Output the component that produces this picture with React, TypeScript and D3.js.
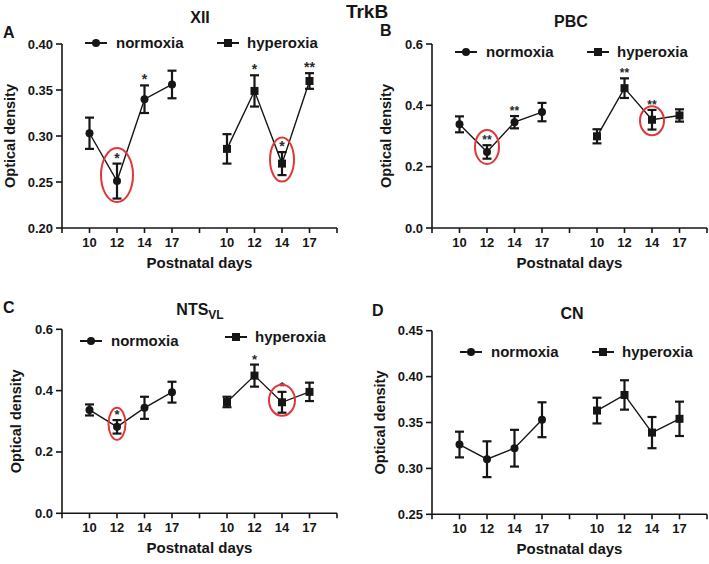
import React from "react";
import * as d3 from "d3";

const days = ["10", "12", "14", "17"];

// XII
const xiiNorm = [0.303, 0.251, 0.34, 0.356];
const xiiNormErr = [0.017, 0.019, 0.015, 0.015];
const xiiHyper = [0.286, 0.349, 0.27, 0.3598];
const xiiHyperErr = [0.016, 0.017, 0.0125, 0.0085];
const xiiNormStars = ["", "*", "*", ""];
const xiiHyperStars = ["", "*", "*", "**"];

// PBC
const pbcNorm = [0.338, 0.248, 0.345, 0.378];
const pbcNormErr = [0.026, 0.022, 0.02, 0.03];
const pbcHyper = [0.299, 0.456, 0.353, 0.367];
const pbcHyperErr = [0.023, 0.032, 0.032, 0.02];
const pbcNormStars = ["", "**", "**", ""];
const pbcHyperStars = ["", "**", "**", ""];

// NTS VL
const ntsNorm = [0.337, 0.282, 0.344, 0.395];
const ntsNormErr = [0.018, 0.022, 0.036, 0.034];
const ntsHyper = [0.363, 0.449, 0.362, 0.396];
const ntsHyperErr = [0.017, 0.036, 0.034, 0.03];
const ntsNormStars = ["", "*", "", ""];
const ntsHyperStars = ["", "*", "*", ""];

// CN
const cnNorm = [0.326, 0.31, 0.322, 0.353];
const cnNormErr = [0.014, 0.0195, 0.02, 0.019];
const cnHyper = [0.363, 0.38, 0.339, 0.354];
const cnHyperErr = [0.014, 0.016, 0.017, 0.0187];
const noStars = ["", "", "", ""];

const ticksA = [0.2, 0.25, 0.3, 0.35, 0.4];
const ticksB = [0, 0.2, 0.4, 0.6];
const ticksD = [0.25, 0.3, 0.35, 0.4, 0.45];

const FONT = "'Liberation Sans', Arial, sans-serif";
const INK = "#161616";
const RED = "#e0383a";

type Circ = { group: "n" | "h"; idx: number; dy: number; rx: number; ry: number };

type PanelProps = {
  ax: number; top: number; bottom: number;
  domain: [number, number]; ticks: number[]; fmt: string;
  title: React.ReactNode; titleX: number; titleY: number;
  letter: string; letterX: number; letterY: number;
  ylabX: number;
  norm: number[]; normErr: number[]; hyper: number[]; hyperErr: number[];
  normStars: string[]; hyperStars: string[]; starSize: number;
  legN: [number, number]; legH: [number, number];
  circles: Circ[];
};

function Panel(p: PanelProps) {
  const x = d3.scaleLinear().domain([0, 10]).range([p.ax, p.ax + 275]);
  const y = d3.scaleLinear().domain(p.domain).range([p.bottom, p.top]);
  const f = d3.format(p.fmt);
  const nPos = [1, 2, 3, 4];
  const hPos = [6, 7, 8, 9];
  const line = d3.line<[number, number]>().x((d) => x(d[0])).y((d) => y(d[1]));
  const nPts = nPos.map((px, i) => [px, p.norm[i]] as [number, number]);
  const hPts = hPos.map((px, i) => [px, p.hyper[i]] as [number, number]);
  const xt = d3.range(0, 11);
  const labelPos = [...nPos, ...hPos];
  const labels = [...days, ...days];

  const errBar = (px: number, m: number, e: number, key: string) => (
    <g key={key} stroke={INK} strokeWidth={2.2}>
      <line x1={x(px)} x2={x(px)} y1={y(m + e)} y2={y(m - e)} />
      <line x1={x(px) - 4.5} x2={x(px) + 4.5} y1={y(m + e)} y2={y(m + e)} />
      <line x1={x(px) - 4.5} x2={x(px) + 4.5} y1={y(m - e)} y2={y(m - e)} />
    </g>
  );

  return (
    <g fontFamily={FONT} fontWeight="bold" fill={INK}>
      <text x={p.letterX} y={p.letterY} fontSize={16}>{p.letter}</text>
      <text x={p.titleX} y={p.titleY} fontSize={16} textAnchor="middle">{p.title}</text>
      <line x1={p.ax} x2={p.ax} y1={p.top} y2={p.bottom} stroke={INK} strokeWidth={1.6} />
      {p.ticks.map((t) => (
        <g key={"yt" + t}>
          <line x1={p.ax - 6} x2={p.ax} y1={y(t)} y2={y(t)} stroke={INK} strokeWidth={1.6} />
          <text x={p.ax - 9} y={y(t) + 4.5} fontSize={13} textAnchor="end">{f(t)}</text>
        </g>
      ))}
      <text transform={`translate(${p.ylabX},${(p.top + p.bottom) / 2}) rotate(-90)`} fontSize={14.5} textAnchor="middle">
        Optical density
      </text>
      <line x1={x(0)} x2={x(10)} y1={p.bottom} y2={p.bottom} stroke={INK} strokeWidth={1.6} />
      {xt.map((t) => (
        <line key={"xt" + t} x1={x(t)} x2={x(t)} y1={p.bottom} y2={p.bottom + 5} stroke={INK} strokeWidth={1.6} />
      ))}
      {labelPos.map((px, i) => (
        <text key={"xl" + i} x={x(px)} y={p.bottom + 19} fontSize={13} textAnchor="middle">{labels[i]}</text>
      ))}
      <text x={x(5)} y={p.bottom + 40} fontSize={15} textAnchor="middle">Postnatal days</text>
      <path d={line(nPts) || ""} fill="none" stroke={INK} strokeWidth={1.4} />
      <path d={line(hPts) || ""} fill="none" stroke={INK} strokeWidth={1.4} />
      {nPos.map((px, i) => errBar(px, p.norm[i], p.normErr[i], "ne" + i))}
      {hPos.map((px, i) => errBar(px, p.hyper[i], p.hyperErr[i], "he" + i))}
      {nPos.map((px, i) => (
        <circle key={"nc" + i} cx={x(px)} cy={y(p.norm[i])} r={4} fill={INK} />
      ))}
      {hPos.map((px, i) => (
        <rect key={"hr" + i} x={x(px) - 4} y={y(p.hyper[i]) - 4} width={8} height={8} fill={INK} />
      ))}
      {nPos.map((px, i) => p.normStars[i] ? (
        <text key={"ns" + i} x={x(px)} y={y(p.norm[i] + p.normErr[i]) - 1} fontSize={p.starSize} textAnchor="middle" fill="#2a2a2a">{p.normStars[i]}</text>
      ) : null)}
      {hPos.map((px, i) => p.hyperStars[i] ? (
        <text key={"hs" + i} x={x(px)} y={y(p.hyper[i] + p.hyperErr[i]) - 1} fontSize={p.starSize} textAnchor="middle" fill="#2a2a2a">{p.hyperStars[i]}</text>
      ) : null)}
      {p.circles.map((c, i) => {
        const px = c.group === "n" ? nPos[c.idx] : hPos[c.idx];
        const v = c.group === "n" ? p.norm[c.idx] : p.hyper[c.idx];
        return <ellipse key={"el" + i} cx={x(px)} cy={y(v) + c.dy} rx={c.rx} ry={c.ry} fill="none" stroke={RED} strokeWidth={2} />;
      })}
      <g>
        <line x1={p.legN[0]} x2={p.legN[0] + 22} y1={p.legN[1]} y2={p.legN[1]} stroke={INK} strokeWidth={2} />
        <circle cx={p.legN[0] + 11} cy={p.legN[1]} r={4} fill={INK} />
        <text x={p.legN[0] + 31} y={p.legN[1] + 5} fontSize={15}>normoxia</text>
        <line x1={p.legH[0]} x2={p.legH[0] + 22} y1={p.legH[1]} y2={p.legH[1]} stroke={INK} strokeWidth={2} />
        <rect x={p.legH[0] + 7} y={p.legH[1] - 4} width={8} height={8} fill={INK} />
        <text x={p.legH[0] + 30} y={p.legH[1] + 5} fontSize={15}>hyperoxia</text>
      </g>
    </g>
  );
}

export default function App() {
  return (
    <svg width={709} height={564} style={{ position: "absolute", left: 0, top: 0, background: "#fff" }}>
      <rect width={709} height={564} fill="#fff" />
      <text x={367} y={18} fontFamily={FONT} fontWeight="bold" fontSize={19} textAnchor="middle" fill={INK}>TrkB</text>
      <Panel
        ax={62} top={44} bottom={228} domain={[0.2, 0.4]} ticks={ticksA} fmt=".2f"
        title="XII" titleX={200} titleY={23} letter="A" letterX={3} letterY={38} ylabX={15}
        norm={xiiNorm} normErr={xiiNormErr} hyper={xiiHyper} hyperErr={xiiHyperErr}
        normStars={xiiNormStars} hyperStars={xiiHyperStars} starSize={14}
        legN={[85, 43]} legH={[217, 43]}
        circles={[{ group: "n", idx: 1, dy: -6, rx: 16, ry: 27 }, { group: "h", idx: 2, dy: -4, rx: 12, ry: 22 }]}
      />
      <Panel
        ax={432} top={44} bottom={228} domain={[0, 0.6]} ticks={ticksB} fmt=".1f"
        title="PBC" titleX={571} titleY={27} letter="B" letterX={380} letterY={36} ylabX={391}
        norm={pbcNorm} normErr={pbcNormErr} hyper={pbcHyper} hyperErr={pbcHyperErr}
        normStars={pbcNormStars} hyperStars={pbcHyperStars} starSize={12}
        legN={[455, 52]} legH={[587, 52]}
        circles={[{ group: "n", idx: 1, dy: -5, rx: 12, ry: 17 }, { group: "h", idx: 2, dy: 1, rx: 12, ry: 14.5 }]}
      />
      <Panel
        ax={62} top={329.3} bottom={513.3} domain={[0, 0.6]} ticks={ticksB} fmt=".1f"
        title={<tspan>NTS<tspan fontSize={12} dy={4}>VL</tspan></tspan>} titleX={200} titleY={315}
        letter="C" letterX={3} letterY={313} ylabX={21}
        norm={ntsNorm} normErr={ntsNormErr} hyper={ntsHyper} hyperErr={ntsHyperErr}
        normStars={ntsNormStars} hyperStars={ntsHyperStars} starSize={13}
        legN={[80, 341]} legH={[225, 337]}
        circles={[{ group: "n", idx: 1, dy: -3, rx: 8.5, ry: 16 }, { group: "h", idx: 2, dy: -2, rx: 13, ry: 15.5 }]}
      />
      <Panel
        ax={432} top={330.7} bottom={514.3} domain={[0.25, 0.45]} ticks={ticksD} fmt=".2f"
        title="CN" titleX={572} titleY={319} letter="D" letterX={372} letterY={316} ylabX={385}
        norm={cnNorm} normErr={cnNormErr} hyper={cnHyper} hyperErr={cnHyperErr}
        normStars={noStars} hyperStars={noStars} starSize={13}
        legN={[460, 352]} legH={[592, 352]}
        circles={[]}
      />
    </svg>
  );
}
